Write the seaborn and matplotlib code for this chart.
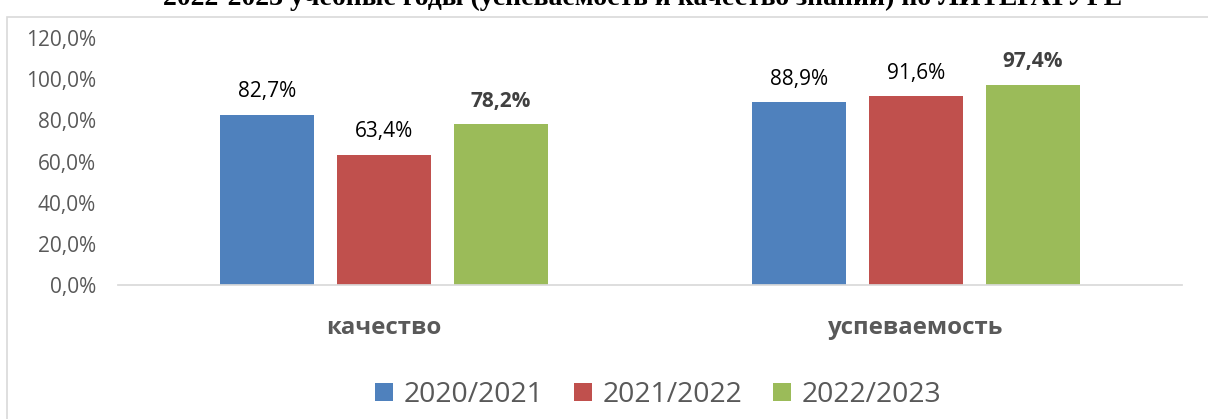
import matplotlib
matplotlib.use("Agg")
import matplotlib.pyplot as plt
import pandas as pd
import seaborn as sns
from matplotlib.patches import Rectangle, Patch

# chart data
categories = ["качество", "успеваемость"]
years = ["2020/2021", "2021/2022", "2022/2023"]
values_2020 = [0.827, 0.889]
values_2021 = [0.634, 0.916]
values_2022 = [0.782, 0.974]
colors = ["#4F81BD", "#C0504D", "#9BBB59"]
title = "2022-2023 учебные годы (успеваемость и качество знаний) по ЛИТЕРАТУРЕ"

df = pd.DataFrame({
    "category": categories * 3,
    "year": [years[0]] * 2 + [years[1]] * 2 + [years[2]] * 2,
    "value": values_2020 + values_2021 + values_2022,
})

sns.set_theme(style="white")
plt.rcParams["font.family"] = ["Open Sans", "DejaVu Sans"]

W, H = 1208, 419
fig = plt.figure(figsize=(W / 100, H / 100), dpi=100)
ax = fig.add_axes([118 / W, 134 / H, (1182 - 118) / W, (285 - 38) / H])

sns.barplot(data=df, x="category", y="value", hue="year", palette=colors,
            width=0.66, gap=0.2, saturation=1, linewidth=0, ax=ax, legend=False)

ax.set_ylim(0, 1.2)
ax.set_yticks([0, 0.2, 0.4, 0.6, 0.8, 1.0, 1.2])
ax.set_yticklabels([f"{v * 100:.1f}%".replace(".", ",") for v in ax.get_yticks()],
                   fontsize=15, color="#595959")
ax.tick_params(axis="y", length=0, pad=16)
ax.tick_params(axis="x", length=0, pad=22)
ax.set_xticks(range(len(categories)))
ax.set_xticklabels(categories, fontsize=17.3, fontweight="bold", color="#595959")
ax.set_xlabel("")
ax.set_ylabel("")
for s in ["top", "right", "left"]:
    ax.spines[s].set_visible(False)
ax.spines["bottom"].set_color("#D9D9D9")

# value labels
for i, cont in enumerate(ax.containers):
    labels = [f"{v * 100:.1f}%".replace(".", ",") for v in cont.datavalues]
    if i == 2:
        ax.bar_label(cont, labels=labels, padding=9, fontsize=15,
                     fontweight="bold", color="#404040")
    else:
        ax.bar_label(cont, labels=labels, padding=9, fontsize=15, color="black")

handles = [Patch(facecolor=c, edgecolor="none") for c in colors]
fig.legend(handles, years, loc="center", bbox_to_anchor=(658 / W, 1 - 395 / H),
           ncol=3, frameon=False, fontsize=20.4, handlelength=0.64, handleheight=0.64,
           handletextpad=0.35, columnspacing=1.1, labelcolor="#595959")

# chart frame
fig.patches.append(Rectangle((7 / W, -0.1), 1.1, 1 - 17 / H + 0.1,
                             transform=fig.transFigure, fill=False,
                             edgecolor="#D9D9D9", linewidth=1.2))

# cut-off title above the chart
fig.text(1122 / W, 1 + 2 / H, title, ha="right", va="center", fontsize=20,
         fontweight="bold", family=["Liberation Serif", "DejaVu Serif"], color="black")

fig.savefig("out.png", dpi=100, facecolor="white")
